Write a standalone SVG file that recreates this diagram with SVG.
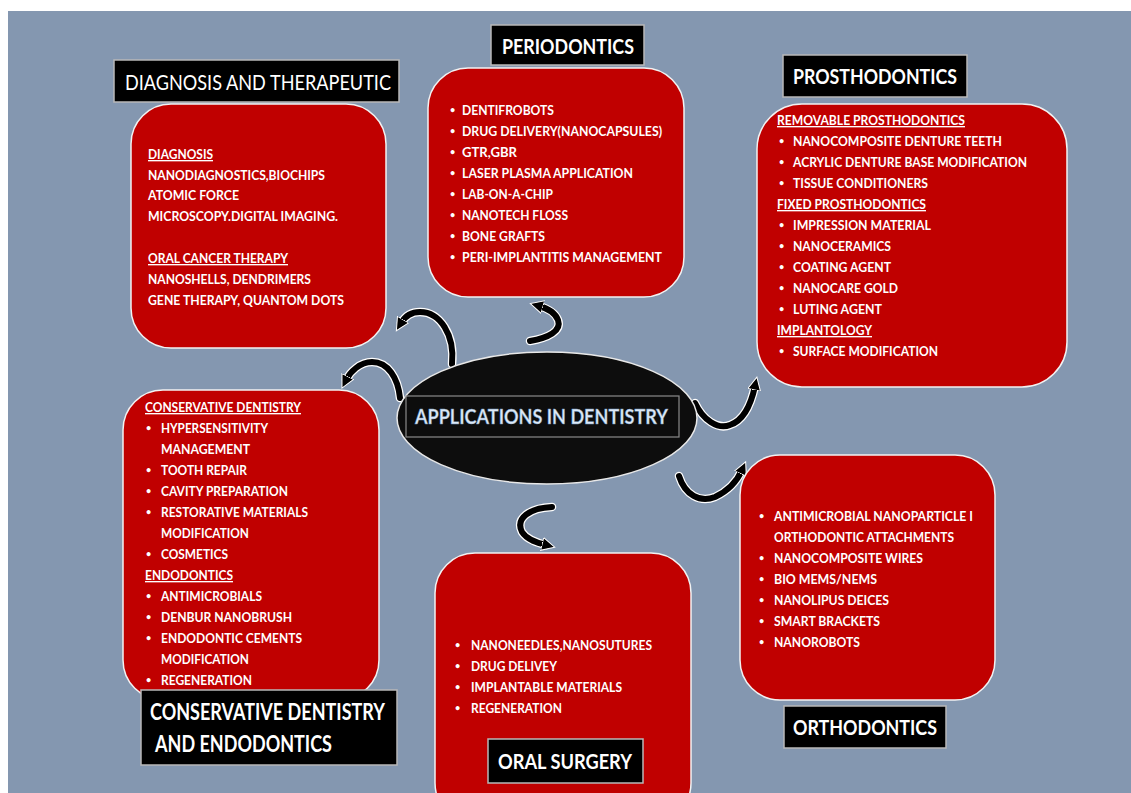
<svg xmlns="http://www.w3.org/2000/svg" width="1131" height="793" viewBox="0 0 1131 793">
<style>
.bg{fill:#8497b0}
.box{fill:#c00000;stroke:#f2f2f2;stroke-width:1.5}
.tb{fill:#000;stroke:#b8b8b8;stroke-width:1.5}
.t{font-family:Lato,"Open Sans","Liberation Sans",sans-serif;font-weight:700;font-size:13.5px;fill:#fff}
.t text.b{font-size:9px}
.u{text-decoration:underline}
.h{font-family:Lato,"Open Sans","Liberation Sans",sans-serif;font-weight:700;font-size:21px;fill:#fff}
.hr{font-weight:400}
.halo{fill:none;stroke:#fff;stroke-width:8.5;stroke-linecap:round}
.arc{fill:none;stroke:#000;stroke-width:6;stroke-linecap:round}
</style>
<defs>
<marker id="ah" markerUnits="userSpaceOnUse" markerWidth="16" markerHeight="16" refX="4" refY="7" orient="auto" viewBox="0 0 16 16">
<path d="M0,0.5 L13,7 L0,13.5 z" fill="#000" stroke="#fff" stroke-width="1"/>
</marker>
</defs>
<rect class="bg" x="8" y="11" width="1123" height="782"/>

<g id="connectors">
<path class="halo" d="M452 364 C455 335 440 312 420 312 C410 312 404 318 401 323"/>
<path class="arc" d="M452 364 C455 335 440 312 420 312 C410 312 404 318 401 323" marker-end="url(#ah)"/>
<path class="halo" d="M400 398 C398 378 388 362 372 362 C360 362 350 372 346 380"/>
<path class="arc" d="M400 398 C398 378 388 362 372 362 C360 362 350 372 346 380" marker-end="url(#ah)"/>
<path class="halo" d="M530 341 C548 338 562 331 558 320 C555 312 546 308 539 306"/>
<path class="arc" d="M530 341 C548 338 562 331 558 320 C555 312 546 308 539 306" marker-end="url(#ah)"/>
<path class="halo" d="M552 507 C530 508 515 518 522 532 C527 540 538 543 546 545"/>
<path class="arc" d="M552 507 C530 508 515 518 522 532 C527 540 538 543 546 545" marker-end="url(#ah)"/>
<path class="halo" d="M695 403 C703 420 718 430 730 425 C745 420 752 400 755 386"/>
<path class="arc" d="M695 403 C703 420 718 430 730 425 C745 420 752 400 755 386" marker-end="url(#ah)"/>
<path class="halo" d="M679 476 C685 495 700 503 715 497 C730 490 738 479 742 470"/>
<path class="arc" d="M679 476 C685 495 700 503 715 497 C730 490 738 479 742 470" marker-end="url(#ah)"/>
</g>

<g id="center">
<ellipse cx="547" cy="418" rx="150" ry="66" fill="#0d0d0d" stroke="#e8e8e8" stroke-width="1.5"/>
<rect x="406" y="396" width="273" height="41" fill="none" stroke="#8a8a8a" stroke-width="1.2"/>
<text class="h" x="415" y="424" textLength="253" lengthAdjust="spacingAndGlyphs" style="fill:#dde9f6;stroke:#6f93bd;stroke-width:0.4">APPLICATIONS IN DENTISTRY</text>
</g>

<g id="diagnosis">
<rect class="box" x="131" y="104" width="255" height="244" rx="40"/>
<g class="t">
<text class="u" x="148" y="159" textLength="65" lengthAdjust="spacingAndGlyphs">DIAGNOSIS</text>
<text x="148" y="180" textLength="177" lengthAdjust="spacingAndGlyphs">NANODIAGNOSTICS,BIOCHIPS</text>
<text x="148" y="200" textLength="91" lengthAdjust="spacingAndGlyphs">ATOMIC  FORCE</text>
<text x="148" y="221" textLength="190" lengthAdjust="spacingAndGlyphs">MICROSCOPY.DIGITAL IMAGING.</text>
<text class="u" x="148" y="263" textLength="140" lengthAdjust="spacingAndGlyphs">ORAL CANCER THERAPY</text>
<text x="148" y="284" textLength="163" lengthAdjust="spacingAndGlyphs">NANOSHELLS, DENDRIMERS</text>
<text x="148" y="305" textLength="196" lengthAdjust="spacingAndGlyphs">GENE THERAPY, QUANTOM DOTS</text>
</g>
<rect class="tb" x="114" y="60" width="285" height="42"/>
<text class="h hr" x="125" y="90" textLength="266" lengthAdjust="spacingAndGlyphs">DIAGNOSIS AND THERAPEUTIC</text>
</g>

<g id="periodontics">
<rect class="box" x="428" y="68" width="256" height="229" rx="40"/>
<g class="t">
<text class="b" x="450" y="113">•</text><text x="462" y="115" textLength="92" lengthAdjust="spacingAndGlyphs">DENTIFROBOTS</text>
<text class="b" x="450" y="134">•</text><text x="462" y="136" textLength="200" lengthAdjust="spacingAndGlyphs">DRUG DELIVERY(NANOCAPSULES)</text>
<text class="b" x="450" y="155">•</text><text x="462" y="157" textLength="55" lengthAdjust="spacingAndGlyphs">GTR,GBR</text>
<text class="b" x="450" y="176">•</text><text x="462" y="178" textLength="171" lengthAdjust="spacingAndGlyphs">LASER PLASMA APPLICATION</text>
<text class="b" x="450" y="197">•</text><text x="462" y="199" textLength="91" lengthAdjust="spacingAndGlyphs">LAB-ON-A-CHIP</text>
<text class="b" x="450" y="218">•</text><text x="462" y="220" textLength="106" lengthAdjust="spacingAndGlyphs">NANOTECH FLOSS</text>
<text class="b" x="450" y="239">•</text><text x="462" y="241" textLength="83" lengthAdjust="spacingAndGlyphs">BONE GRAFTS</text>
<text class="b" x="450" y="260">•</text><text x="462" y="262" textLength="200" lengthAdjust="spacingAndGlyphs">PERI-IMPLANTITIS MANAGEMENT</text>
</g>
<rect class="tb" x="491" y="25" width="153" height="40"/>
<text class="h" x="502" y="54" textLength="132" lengthAdjust="spacingAndGlyphs">PERIODONTICS</text>
</g>

<g id="prosthodontics">
<rect class="box" x="757" y="104" width="310" height="283" rx="45"/>
<g class="t">
<text class="u" x="777" y="125" textLength="188" lengthAdjust="spacingAndGlyphs">REMOVABLE PROSTHODONTICS</text>
<text class="b" x="779" y="144">•</text><text x="793" y="146" textLength="209" lengthAdjust="spacingAndGlyphs">NANOCOMPOSITE DENTURE TEETH</text>
<text class="b" x="779" y="165">•</text><text x="793" y="167" textLength="234" lengthAdjust="spacingAndGlyphs">ACRYLIC DENTURE BASE MODIFICATION</text>
<text class="b" x="779" y="186">•</text><text x="793" y="188" textLength="135" lengthAdjust="spacingAndGlyphs">TISSUE CONDITIONERS</text>
<text class="u" x="777" y="209" textLength="149" lengthAdjust="spacingAndGlyphs">FIXED PROSTHODONTICS</text>
<text class="b" x="779" y="228">•</text><text x="793" y="230" textLength="138" lengthAdjust="spacingAndGlyphs">IMPRESSION MATERIAL</text>
<text class="b" x="779" y="249">•</text><text x="793" y="251" textLength="98" lengthAdjust="spacingAndGlyphs">NANOCERAMICS</text>
<text class="b" x="779" y="270">•</text><text x="793" y="272" textLength="98" lengthAdjust="spacingAndGlyphs">COATING AGENT</text>
<text class="b" x="779" y="291">•</text><text x="793" y="293" textLength="105" lengthAdjust="spacingAndGlyphs">NANOCARE GOLD</text>
<text class="b" x="779" y="312">•</text><text x="793" y="314" textLength="89" lengthAdjust="spacingAndGlyphs">LUTING AGENT</text>
<text class="u" x="777" y="335" textLength="95" lengthAdjust="spacingAndGlyphs">IMPLANTOLOGY</text>
<text class="b" x="779" y="354">•</text><text x="793" y="356" textLength="145" lengthAdjust="spacingAndGlyphs">SURFACE MODIFICATION</text>
</g>
<rect class="tb" x="783" y="55" width="184" height="42"/>
<text class="h" x="793" y="84" textLength="164" lengthAdjust="spacingAndGlyphs">PROSTHODONTICS</text>
</g>

<g id="conservative">
<rect class="box" x="123" y="390" width="256" height="310" rx="40"/>
<g class="t">
<text class="u" x="145" y="412" textLength="156" lengthAdjust="spacingAndGlyphs">CONSERVATIVE DENTISTRY</text>
<text class="b" x="146" y="431">•</text><text x="161" y="433" textLength="107" lengthAdjust="spacingAndGlyphs">HYPERSENSITIVITY</text>
<text x="161" y="454" textLength="89" lengthAdjust="spacingAndGlyphs">MANAGEMENT</text>
<text class="b" x="146" y="473">•</text><text x="161" y="475" textLength="86" lengthAdjust="spacingAndGlyphs">TOOTH REPAIR</text>
<text class="b" x="146" y="494">•</text><text x="161" y="496" textLength="127" lengthAdjust="spacingAndGlyphs">CAVITY PREPARATION</text>
<text class="b" x="146" y="515">•</text><text x="161" y="517" textLength="147" lengthAdjust="spacingAndGlyphs">RESTORATIVE MATERIALS</text>
<text x="161" y="538" textLength="88" lengthAdjust="spacingAndGlyphs">MODIFICATION</text>
<text class="b" x="146" y="557">•</text><text x="161" y="559" textLength="67" lengthAdjust="spacingAndGlyphs">COSMETICS</text>
<text class="u" x="145" y="580" textLength="88" lengthAdjust="spacingAndGlyphs">ENDODONTICS</text>
<text class="b" x="146" y="599">•</text><text x="161" y="601" textLength="101" lengthAdjust="spacingAndGlyphs">ANTIMICROBIALS</text>
<text class="b" x="146" y="620">•</text><text x="161" y="622" textLength="131" lengthAdjust="spacingAndGlyphs">DENBUR NANOBRUSH</text>
<text class="b" x="146" y="641">•</text><text x="161" y="643" textLength="141" lengthAdjust="spacingAndGlyphs">ENDODONTIC CEMENTS</text>
<text x="161" y="664" textLength="88" lengthAdjust="spacingAndGlyphs">MODIFICATION</text>
<text class="b" x="146" y="683">•</text><text x="161" y="685" textLength="91" lengthAdjust="spacingAndGlyphs">REGENERATION</text>
</g>
<rect class="tb" x="141" y="690" width="256" height="75"/>
<text class="h" x="150" y="720" style="font-size:22px" textLength="235" lengthAdjust="spacingAndGlyphs">CONSERVATIVE DENTISTRY</text>
<text class="h" x="155" y="752" style="font-size:22px" textLength="177" lengthAdjust="spacingAndGlyphs">AND ENDODONTICS</text>
</g>

<g id="orthodontics">
<rect class="box" x="740" y="455" width="255" height="245" rx="40"/>
<g class="t">
<text class="b" x="759" y="519">•</text><text x="774" y="521" textLength="199" lengthAdjust="spacingAndGlyphs">ANTIMICROBIAL NANOPARTICLE I</text>
<text x="774" y="542" textLength="180" lengthAdjust="spacingAndGlyphs">ORTHODONTIC ATTACHMENTS</text>
<text class="b" x="759" y="561">•</text><text x="774" y="563" textLength="149" lengthAdjust="spacingAndGlyphs">NANOCOMPOSITE WIRES</text>
<text class="b" x="759" y="582">•</text><text x="774" y="584" textLength="103" lengthAdjust="spacingAndGlyphs">BIO MEMS/NEMS</text>
<text class="b" x="759" y="603">•</text><text x="774" y="605" textLength="115" lengthAdjust="spacingAndGlyphs">NANOLIPUS DEICES</text>
<text class="b" x="759" y="624">•</text><text x="774" y="626" textLength="106" lengthAdjust="spacingAndGlyphs">SMART BRACKETS</text>
<text class="b" x="759" y="645">•</text><text x="774" y="647" textLength="86" lengthAdjust="spacingAndGlyphs">NANOROBOTS</text>
</g>
<rect class="tb" x="784" y="706" width="162" height="42"/>
<text class="h" x="793" y="735" textLength="144" lengthAdjust="spacingAndGlyphs">ORTHODONTICS</text>
</g>

<g id="oralsurgery">
<rect class="box" x="435" y="553" width="256" height="270" rx="40"/>
<g class="t">
<text class="b" x="455" y="648">•</text><text x="471" y="650" textLength="181" lengthAdjust="spacingAndGlyphs">NANONEEDLES,NANOSUTURES</text>
<text class="b" x="455" y="669">•</text><text x="471" y="671" textLength="86" lengthAdjust="spacingAndGlyphs">DRUG DELIVEY</text>
<text class="b" x="455" y="690">•</text><text x="471" y="692" textLength="151" lengthAdjust="spacingAndGlyphs">IMPLANTABLE  MATERIALS</text>
<text class="b" x="455" y="711">•</text><text x="471" y="713" textLength="91" lengthAdjust="spacingAndGlyphs">REGENERATION</text>
</g>
<rect class="tb" x="488" y="739" width="155" height="44"/>
<text class="h" x="498" y="769" textLength="134" lengthAdjust="spacingAndGlyphs">ORAL SURGERY</text>
</g>
</svg>
